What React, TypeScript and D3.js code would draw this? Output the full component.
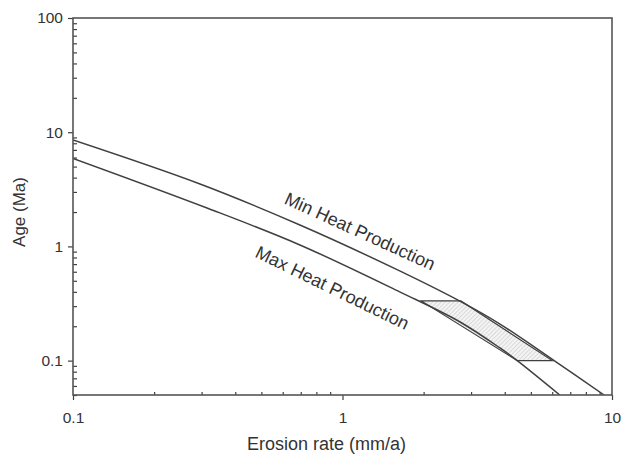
import React, { useEffect, useRef } from "react";
import * as d3 from "d3";

// [erosion rate (mm/a), age (Ma)]
const minHeat: [number, number][] = [
  [0.1, 8.55],
  [0.296, 3.52],
  [0.695, 1.54],
  [1.63, 0.61],
  [2.77, 0.325],
  [3.84, 0.209],
  [6.1, 0.1],
  [9.35, 0.05],
];

const maxHeat: [number, number][] = [
  [0.1, 5.9],
  [0.316, 2.16],
  [0.695, 1.03],
  [1.63, 0.4],
  [2.72, 0.219],
  [3.84, 0.129],
  [4.45, 0.1],
  [6.4, 0.05],
];

const zone: [number, number][] = [
  [1.96, 0.333],
  [2.75, 0.333],
  [6.0, 0.1],
  [4.45, 0.1],
];

const xMajor = [0.1, 1, 10];
const yMajor = [0.1, 1, 10, 100];

const labels = [
  { text: "Min Heat Production", x: 1.136, y: 1.21, angle: 24.5 },
  { text: "Max Heat Production", x: 0.896, y: 0.388, angle: 26 },
];

const App = () => {
  const svgRef = useRef<SVGSVGElement>(null);

  useEffect(() => {
    const svg = d3.select(svgRef.current);
    svg.selectAll("*").remove();

    const font = "'Liberation Sans', Arial, sans-serif";
    const ink = "#404040";
    const txt = "#333";

    const x = d3.scaleLog().domain([0.1, 10]).range([73, 612]);
    const y = d3.scaleLog().domain([0.05, 100]).range([395, 18]);

    const defs = svg.append("defs");
    const pat = defs
      .append("pattern")
      .attr("id", "hatch")
      .attr("patternUnits", "userSpaceOnUse")
      .attr("width", 3)
      .attr("height", 3)
      .attr("patternTransform", "rotate(45)");
    pat.append("rect").attr("width", 3).attr("height", 3).attr("fill", "#f4f4f4");
    pat
      .append("line")
      .attr("x1", 0)
      .attr("y1", 0)
      .attr("x2", 0)
      .attr("y2", 3)
      .attr("stroke", "#a8a8a8")
      .attr("stroke-width", 0.7);

    defs
      .append("clipPath")
      .attr("id", "plot")
      .append("rect")
      .attr("x", 73)
      .attr("y", 18)
      .attr("width", 539)
      .attr("height", 377);

    // hatched zone
    svg
      .append("path")
      .attr("d", "M" + zone.map((d) => `${x(d[0])},${y(d[1])}`).join("L") + "Z")
      .attr("fill", "url(#hatch)")
      .attr("stroke", ink)
      .attr("stroke-width", 1.2);

    const line = d3
      .line<[number, number]>()
      .x((d) => x(d[0]))
      .y((d) => y(d[1]))
      .curve(d3.curveCatmullRom.alpha(0.5));

    [minHeat, maxHeat].forEach((s) => {
      svg
        .append("path")
        .attr("d", line(s))
        .attr("fill", "none")
        .attr("stroke", ink)
        .attr("stroke-width", 1.5)
        .attr("clip-path", "url(#plot)");
    });

    // minor ticks (inside)
    const xMinor = x.ticks().filter((t) => !xMajor.some((m) => Math.abs(m - t) < 1e-9));
    const yMinor = y.ticks().filter((t) => !yMajor.some((m) => Math.abs(m - t) < 1e-9));

    svg
      .append("g")
      .attr("transform", "translate(0,395)")
      .call(d3.axisBottom(x).tickValues(xMinor).tickSize(-3).tickFormat(() => ""))
      .call((g) => g.select(".domain").remove());

    svg
      .append("g")
      .attr("transform", "translate(73,0)")
      .call(d3.axisLeft(y).tickValues(yMinor).tickSize(-4).tickFormat(() => ""))
      .call((g) => g.select(".domain").remove());

    // major ticks (outside)
    svg
      .append("g")
      .attr("transform", "translate(0,395)")
      .call(
        d3
          .axisBottom(x)
          .tickValues(xMajor)
          .tickSize(5)
          .tickPadding(12)
          .tickFormat((d) => String(d))
      )
      .call((g) => g.select(".domain").remove());

    svg
      .append("g")
      .attr("transform", "translate(73,0)")
      .call(
        d3
          .axisLeft(y)
          .tickValues(yMajor)
          .tickSize(5)
          .tickPadding(5)
          .tickFormat((d) => String(d))
      )
      .call((g) => g.select(".domain").remove());

    svg.selectAll(".tick line").attr("stroke", ink).attr("stroke-width", 1.2);
    svg
      .selectAll(".tick text")
      .attr("fill", txt)
      .style("font-family", font)
      .style("font-size", "15.5px");

    // frame
    svg
      .append("rect")
      .attr("x", 73)
      .attr("y", 18)
      .attr("width", 539)
      .attr("height", 377)
      .attr("fill", "none")
      .attr("stroke", "#555")
      .attr("stroke-width", 1.6);

    // curve labels
    labels.forEach((l) => {
      svg
        .append("text")
        .attr("transform", `translate(${x(l.x)},${y(l.y)}) rotate(${l.angle})`)
        .attr("text-anchor", "middle")
        .attr("fill", txt)
        .style("font-family", font)
        .style("font-size", "18px")
        .text(l.text);
    });

    // axis titles
    svg
      .append("text")
      .attr("x", 326.5)
      .attr("y", 450)
      .attr("text-anchor", "middle")
      .attr("fill", txt)
      .style("font-family", font)
      .style("font-size", "18px")
      .text("Erosion rate (mm/a)");

    svg
      .append("text")
      .attr("transform", "translate(25,212) rotate(-90)")
      .attr("text-anchor", "middle")
      .attr("fill", txt)
      .style("font-family", font)
      .style("font-size", "17px")
      .text("Age (Ma)");
  }, []);

  return (
    <svg
      ref={svgRef}
      width={622}
      height={454}
      style={{ position: "absolute", left: 0, top: 0, background: "#fff" }}
    ></svg>
  );
};

export default App;
